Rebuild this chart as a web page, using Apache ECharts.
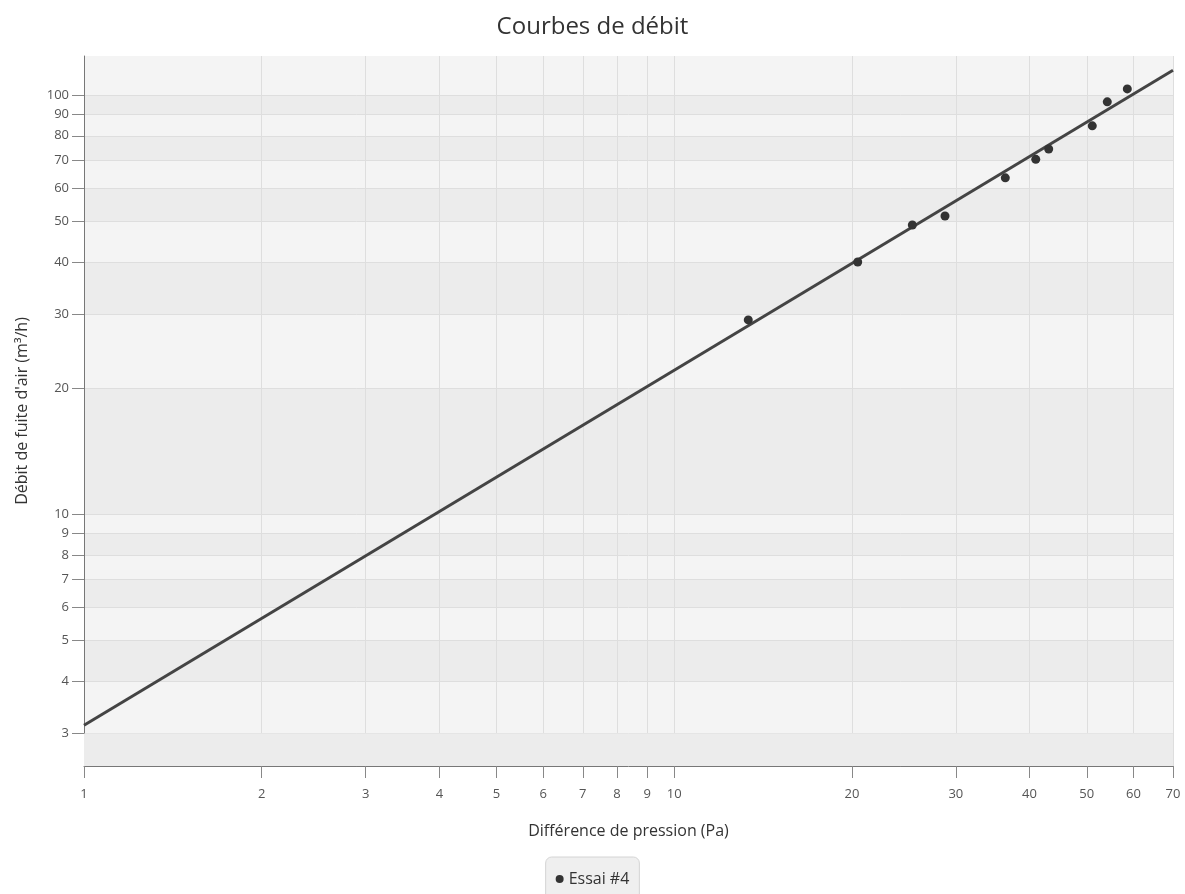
<!DOCTYPE html>
<html>
  <head>
    <meta charset="utf-8">
    <title>Courbes de débit</title>
    <script src="https://cdn.jsdelivr.net/npm/echarts@6/dist/echarts.min.js"></script>
    <style>
    html, body { margin: 0; padding: 0; background: #fff; }
    #chart { width: 1185px; height: 894px; }
    </style>
  </head>
  <body>
    <div id="chart"></div>
    <script type="text/javascript">
      // points de mesure (Pa, m3/h)
      var pressions = [13.35, 20.46, 25.32, 28.76, 36.39, 40.98, 43.10, 51.09, 54.17, 58.57];
      var debits = [29.1, 40.0, 49.0, 51.5, 63.5, 70.3, 74.4, 84.5, 96.4, 103.5];
      // droite de regression
      var courbeX = [1, 70];
      var courbeY = [3.14, 114.7];
      // graduations
      var ticksX = [1, 2, 3, 4, 5, 6, 7, 8, 9, 10, 20, 30, 40, 50, 60, 70];
      var ticksY = [3, 4, 5, 6, 7, 8, 9, 10, 20, 30, 40, 50, 60, 70, 80, 90, 100];
      var minY = 2.51, maxY = 124;

      var chart = echarts.init(document.getElementById('chart'));
      var font = '"Open Sans", "Noto Sans", sans-serif';
      var clair = '#f4f4f4', fonce = '#ececec';

      var option = {
          animation: false,
          textStyle: { fontFamily: font },
          title: {
            text: 'Courbes de débit',
            left: 'center',
            top: 10,
            textStyle: { fontFamily: font, fontSize: 24, fontWeight: 'normal', color: '#333' }
          },
          legend: {
            top: 857,
            left: 'center',
            data: [{ name: 'Essai #4', icon: 'circle' }],
            itemWidth: 8,
            itemHeight: 8,
            itemGap: 6,
            padding: [14, 10, 20, 10],
            backgroundColor: '#efefef',
            borderColor: '#d4d4d4',
            borderWidth: 1,
            borderRadius: 6,
            textStyle: { fontSize: 16, color: '#333' }
          },
          grid: {
            left: 84, right: 12, top: 56, bottom: 128,
            show: true,
            backgroundColor: clair,
            borderWidth: 0
          },
          xAxis: {
            type: 'log',
            min: 1,
            max: 70,
            name: 'Différence de pression (Pa)',
            nameLocation: 'middle',
            nameGap: 57,
            nameTextStyle: { fontSize: 16, color: '#333' },
            axisLine: { show: true, lineStyle: { color: '#777' } },
            axisTick: { show: true, length: 12, lineStyle: { color: '#888' }, customValues: ticksX },
            axisLabel: { customValues: ticksX, color: '#555', fontSize: 13, margin: 22 },
            splitLine: { show: true, lineStyle: { color: '#dedede' } },
            minorTick: { show: false }
          },
          yAxis: {
            type: 'log',
            min: minY,
            max: maxY,
            name: 'Débit de fuite d\'air (m³/h)',
            nameLocation: 'middle',
            nameGap: 54,
            nameTextStyle: { fontSize: 16, color: '#333' },
            axisLine: { show: true, lineStyle: { color: '#777' } },
            axisTick: { show: true, length: 12, lineStyle: { color: '#888' }, customValues: ticksY },
            axisLabel: { customValues: ticksY, color: '#555', fontSize: 13, margin: 15 },
            splitLine: { show: true, lineStyle: { color: '#dedede' } },
            splitArea: { show: true, areaStyle: { color: [clair, fonce] } }
          },
          series: [
            {
              name: 'Essai #4',
              type: 'scatter',
              symbol: 'circle',
              symbolSize: 9,
              itemStyle: { color: '#333', opacity: 1 },
              data: pressions.map(function (p, i) { return [p, debits[i]]; }),
              z: 3
            },
            {
              name: 'Essai #4',
              type: 'line',
              showSymbol: false,
              symbol: 'none',
              lineStyle: { color: '#444', width: 3 },
              data: courbeX.map(function (p, i) { return [p, courbeY[i]]; }),
              markArea: {
                silent: true,
                itemStyle: { color: fonce },
                data: [[{ yAxis: minY }, { yAxis: ticksY[0] }]]
              },
              z: 2
            }
          ]
      };
      chart.setOption(option);
    </script>
  </body>
</html>
